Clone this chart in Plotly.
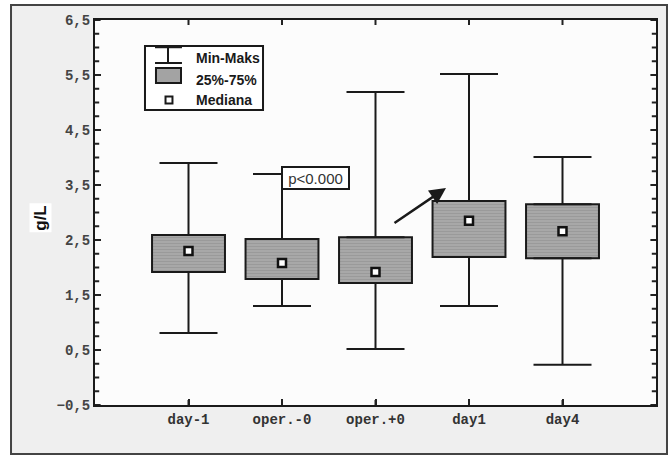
import plotly.graph_objects as go

categories = ["day-1", "oper.-0", "oper.+0", "day1", "day4"]
mins = [0.81, 1.30, 0.52, 1.30, 0.23]
q1 = [1.92, 1.79, 1.72, 2.19, 2.17]
medians = [2.30, 2.08, 1.92, 2.85, 2.66]
q3 = [2.59, 2.52, 2.55, 3.21, 3.15]
maxs = [3.90, 3.70, 5.19, 5.52, 4.01]
y_ticks = [-0.5, 0.5, 1.5, 2.5, 3.5, 4.5, 5.5, 6.5]
legend_labels = ["Min-Maks", "25%-75%", "Mediana"]
y_label = "g/L"
p_text = "p<0.000"

fig = go.Figure()

fig.add_trace(go.Bar(
    x=categories, y=[b - a for a, b in zip(q1, q3)], base=q1, width=0.78,
    marker=dict(color="#a3a3a3", line=dict(color="#1a1a1a", width=2),
                pattern=dict(shape="-", fgcolor="#8a8a8a", bgcolor="#a8a8a8", size=3, solidity=0.3)),
    showlegend=False, hoverinfo="skip"))
fig.add_trace(go.Scatter(
    x=categories, y=q3, mode="markers", marker=dict(size=1, color="rgba(0,0,0,0)"),
    error_y=dict(type="data", symmetric=False, array=[m - b for m, b in zip(maxs, q3)],
                 arrayminus=[0] * len(q3), color="#1a1a1a", thickness=2, width=29),
    showlegend=False, hoverinfo="skip"))
fig.add_trace(go.Scatter(
    x=categories, y=q1, mode="markers", marker=dict(size=1, color="rgba(0,0,0,0)"),
    error_y=dict(type="data", symmetric=False, array=[0] * len(q1),
                 arrayminus=[a - m for a, m in zip(q1, mins)], color="#1a1a1a", thickness=2, width=29),
    showlegend=False, hoverinfo="skip"))
fig.add_trace(go.Scatter(
    x=categories, y=medians, mode="markers",
    marker=dict(symbol="square", size=8, color="white", line=dict(color="#111111", width=2.5)),
    showlegend=False, hoverinfo="skip"))

W = dict(color="white", width=0)
shapes = [
    dict(type="rect", xref="paper", yref="paper", x0=-0.2, x1=-0.1497, y0=-0.2, y1=1.2, fillcolor="white", line=W),
    dict(type="rect", xref="paper", yref="paper", x0=1.0196, x1=1.1, y0=-0.2, y1=1.2, fillcolor="white", line=W),
    dict(type="rect", xref="paper", yref="paper", x0=-0.2, x1=1.1, y0=1.039, y1=1.2, fillcolor="white", line=W),
    dict(type="rect", xref="paper", yref="paper", x0=-0.2, x1=1.1, y0=-0.2, y1=-0.127, fillcolor="white", line=W),
    dict(type="rect", xref="paper", yref="paper", x0=-0.1497, x1=1.0196, y0=-0.127, y1=1.039,
         line=dict(color="#444444", width=2)),
    dict(type="rect", xref="paper", yref="paper", x0=0.0891, x1=0.2995, y0=0.7662, y1=0.9325,
         fillcolor="white", line=dict(color="#1a1a1a", width=2)),
    dict(type="line", xref="paper", yref="paper", x0=0.107, x1=0.155, y0=0.9299, y1=0.9299,
         line=dict(color="#1a1a1a", width=2.5)),
    dict(type="line", xref="paper", yref="paper", x0=0.1301, x1=0.1301, y0=0.9299, y1=0.8883,
         line=dict(color="#1a1a1a", width=2)),
    dict(type="line", xref="paper", yref="paper", x0=0.107, x1=0.155, y0=0.8883, y1=0.8883,
         line=dict(color="#1a1a1a", width=2)),
    dict(type="rect", xref="paper", yref="paper", x0=0.1087, x1=0.1533, y0=0.8364, y1=0.8753,
         fillcolor="#a3a3a3", line=dict(color="#1a1a1a", width=2)),
    dict(type="rect", xref="paper", yref="paper", x0=0.1257, x1=0.1381, y0=0.7831, y1=0.8013,
         fillcolor="white", line=dict(color="#1a1a1a", width=2)),
]

# inside tick marks (left/right for y, bottom/top for x), placed via axis scales
TICK = dict(color="#222222", width=2)
minor_vals = [y_ticks[0] + 0.25 * k for k in range(int((y_ticks[-1] - y_ticks[0]) / 0.25) + 1)]
for v in minor_vals:
    major = v in y_ticks
    ln = 0.010 if major else 0.0075
    for x0, x1 in ((0, ln), (1 - ln, 1)):
        shapes.append(dict(type="line", xref="x domain", yref="y", x0=x0, x1=x1, y0=v, y1=v, line=TICK))
for c in categories:
    for y0, y1 in ((0, 0.013), (0.987, 1)):
        shapes.append(dict(type="line", xref="x", yref="y domain", x0=c, x1=c, y0=y0, y1=y1, line=TICK))

leg_y = [0.9013, 0.8442, 0.7922]
annotations = [
    dict(xref="paper", yref="paper", x=0.1765, y=yy, text=t, showarrow=False, xanchor="left",
         yanchor="middle", font=dict(family="Liberation Sans, Arial", size=14, color="#1a1a1a", weight="bold"))
    for t, yy in zip(legend_labels, leg_y)
]
annotations.append(dict(
    xref="paper", yref="paper", x=-0.117, y=0.486, text=y_label, textangle=-90, showarrow=False,
    font=dict(family="Liberation Sans, Arial", size=17, color="#111111", weight="bold"),
    bgcolor="white", borderpad=1))
annotations.append(dict(
    x=1.358, y=3.63, xref="x", yref="y", text=p_text, showarrow=False,
    font=dict(family="Liberation Sans, Arial", size=15, color="#333333"),
    bgcolor="white", bordercolor="#1a1a1a", borderwidth=2, borderpad=1, width=63, height=18))
annotations.append(dict(
    x=2.754, y=3.445, ax=2.187, ay=2.79, xref="x", yref="y", axref="x", ayref="y",
    text="", showarrow=True, arrowhead=2, arrowsize=1.3, arrowwidth=2.5, arrowcolor="#1a1a1a"))

fig.update_layout(
    width=669, height=458,
    margin=dict(l=95, r=13, t=20, b=53),
    paper_bgcolor="#efefef", plot_bgcolor="#fcfcfc",
    separators=",.",
    shapes=shapes, annotations=annotations,
    showlegend=False,
    xaxis=dict(type="category", range=[-1, 5], showgrid=False, zeroline=False,
               showline=True, linecolor="#1a1a1a", linewidth=2, mirror=True,
               ticks="inside", ticklen=6, tickwidth=2, tickcolor="#222222",
               tickfont=dict(family="Liberation Mono, Courier New, monospace", size=14,
                             color="#333333", weight="bold")),
    yaxis=dict(range=[-0.5, 6.5], tickvals=y_ticks, tickformat=".1f",
               showgrid=False, zeroline=False,
               showline=True, linecolor="#1a1a1a", linewidth=2, mirror=True,
               ticks="inside", ticklen=6, tickwidth=2, tickcolor="#222222",
               tickfont=dict(family="Liberation Mono, Courier New, monospace", size=14,
                             color="#444444", weight="bold")),
)

fig.write_html("out.html")
